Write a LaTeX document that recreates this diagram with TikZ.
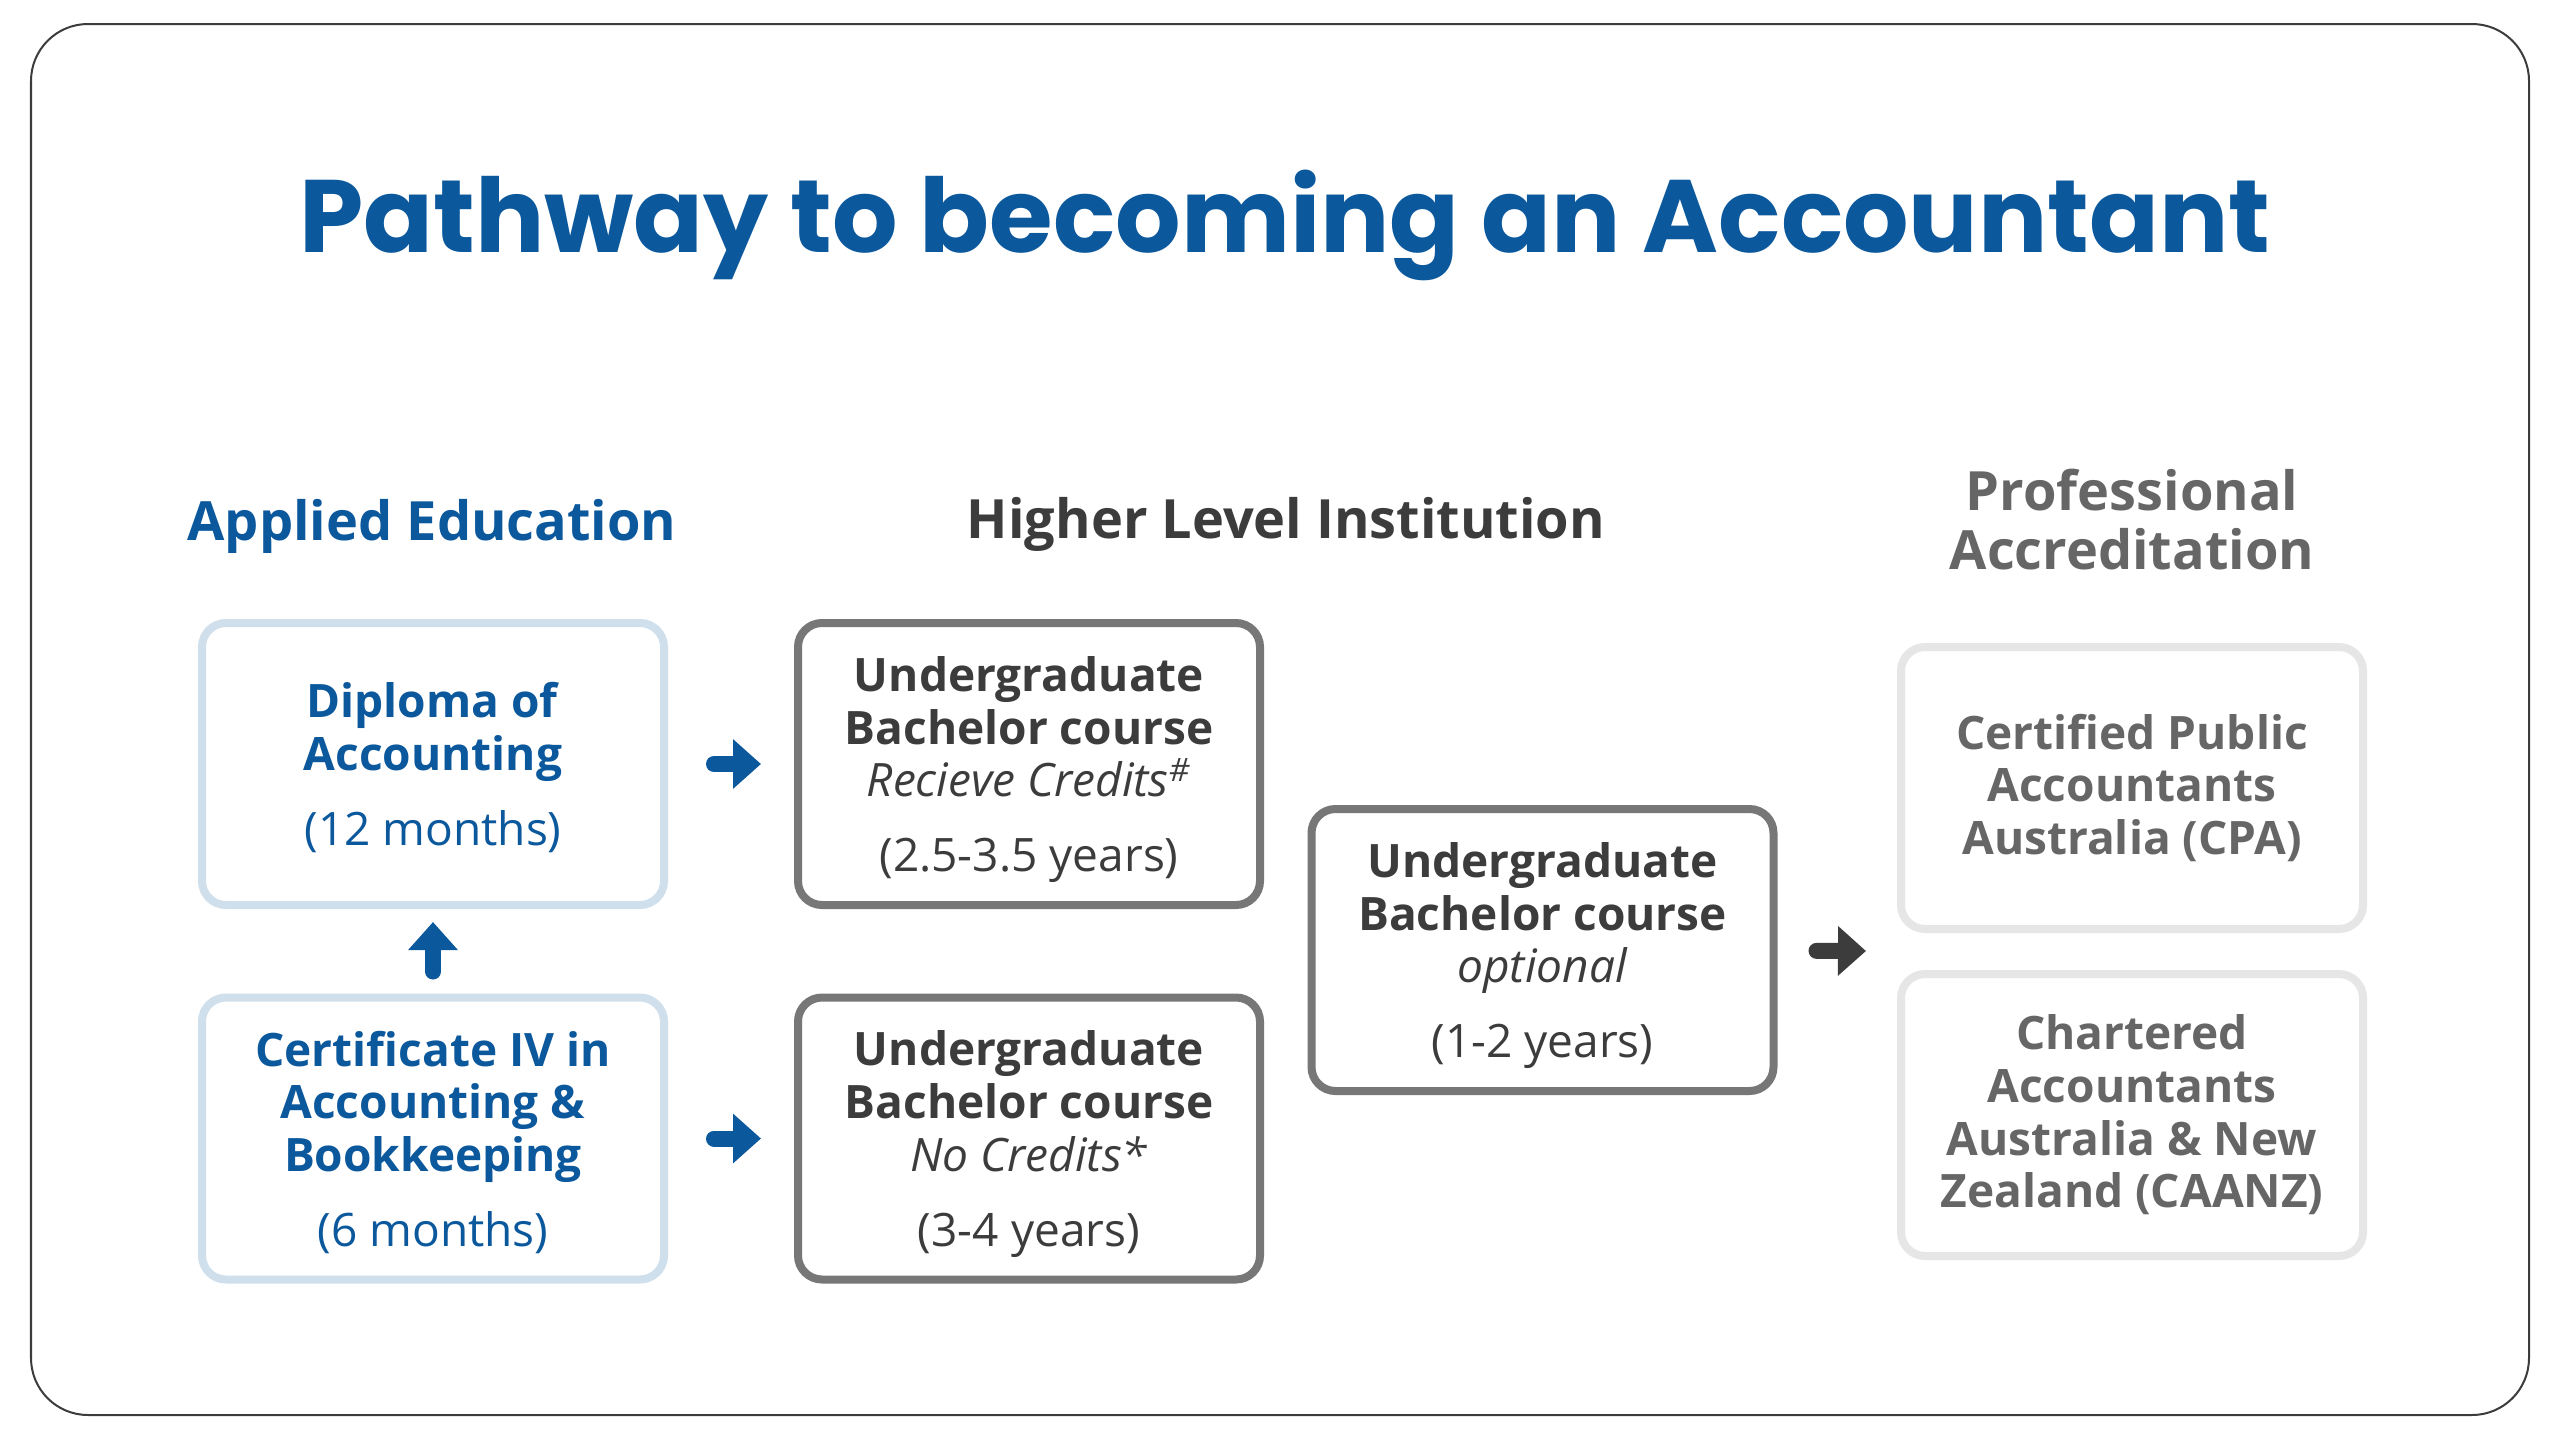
\documentclass[tikz,border=0pt]{standalone}
\usepackage{fontspec}
\setmainfont{Open Sans}
\newfontfamily\poppins{Poppins}
\usetikzlibrary{arrows.meta}
\pgfdeclarelayer{backlayer}
\pgfdeclarelayer{edgelayer}
\pgfdeclarelayer{nodelayer}
\pgfsetlayers{backlayer,edgelayer,nodelayer,main}
\definecolor{ablue}{HTML}{0B589C}
\definecolor{paleblue}{HTML}{CFDFEC}
\definecolor{midgrey}{HTML}{777777}
\definecolor{palegrey}{HTML}{E6E6E6}
\definecolor{darktext}{HTML}{3C3C3C}
\definecolor{softtext}{HTML}{666666}
\tikzset{font=\fontsize{13.1}{15}\selectfont}
\tikzstyle{none}=[inner sep=0pt]
\tikzstyle{card}=[draw, line width=0.08cm, rounded corners=0.24cm, minimum width=4.62cm, minimum height=2.82cm, align=center, inner sep=0pt]
\tikzstyle{edu}=[style=card, draw=paleblue, text=ablue, text depth=0pt]
\tikzstyle{uni}=[style=card, draw=midgrey, text=darktext, text depth=0pt]
\tikzstyle{prof}=[style=card, draw=palegrey, text=softtext, font=\fontsize{13.1}{15}\selectfont\bfseries]
\tikzstyle{heading}=[inner sep=0pt, align=center, font=\fontsize{15.4}{16.8}\selectfont\bfseries]
\tikzstyle{go}=[line width=0.16cm, line cap=round, draw=ablue, -{Triangle[length=0.28cm,width=0.48cm]}]

\begin{document}
\begin{tikzpicture}
	\useasboundingbox (0,0) rectangle (25.6,-14.4);
	\begin{pgfonlayer}{backlayer}
		\fill [white] (0,0) rectangle (25.6,-14.4);
		\draw [line width=0.02cm, draw=darktext, rounded corners=0.57cm] (0.31,-0.24) rectangle (25.29,-14.15);
	\end{pgfonlayer}
	\begin{pgfonlayer}{nodelayer}
		\node [style=none, anchor=base, text=ablue, font=\poppins\bfseries\fontsize{29.3}{30}\selectfont] (title) at (12.85, -2.52) {Pathway to becoming an Accountant};
		\node [style=heading, anchor=base, text=ablue] (applied) at (4.32, -5.40) {Applied Education};
		\node [style=heading, anchor=base, text=darktext] (higher) at (12.86, -5.38) {Higher Level Institution};
		\node [style=heading, text=softtext] (accred) at (21.32, -5.20) {Professional\\Accreditation};
		\node [style=edu] (diploma) at (4.33, -7.64) {\textbf{Diploma of}\\\textbf{Accounting}\\[0.22cm](12 months)};
		\node [style=edu] (certiv) at (4.33, -11.385) {\textbf{Certificate IV in}\\\textbf{Accounting \&}\\\textbf{Bookkeeping}\\[0.22cm](6 months)};
		\node [style=uni] (ugcredit) at (10.29, -7.64) {\textbf{Undergraduate}\\\textbf{Bachelor course}\\\textit{Recieve Credits\textsuperscript{\#}}\\[0.22cm](2.5-3.5 years)};
		\node [style=uni] (ugnocredit) at (10.29, -11.385) {\textbf{Undergraduate}\\\textbf{Bachelor course}\\\textit{No Credits*}\\[0.22cm](3-4 years)};
		\node [style=uni] (ugoptional) at (15.425, -9.50) {\textbf{Undergraduate}\\\textbf{Bachelor course}\\\textit{optional}\\[0.22cm](1-2 years)};
		\node [style=prof] (cpa) at (21.32, -7.88) {Certified Public\\Accountants\\Australia (CPA)};
		\node [style=prof] (caanz) at (21.32, -11.15) {Chartered\\Accountants\\Australia \& New\\Zealand (CAANZ)};
		\coordinate (split) at (18.66, -9.51);
	\end{pgfonlayer}
	\begin{pgfonlayer}{edgelayer}
		\draw [style=go, shorten <=0.22cm, shorten >=0.13cm] (certiv) to (diploma);
		\draw [style=go, shorten <=0.46cm, shorten >=0.33cm] (diploma) to (ugcredit);
		\draw [style=go, shorten <=0.46cm, shorten >=0.33cm] (certiv) to (ugnocredit);
		\draw [style=go, draw=darktext, shorten <=0.39cm] (ugoptional) to (split);
	\end{pgfonlayer}
\end{tikzpicture}
\end{document}
